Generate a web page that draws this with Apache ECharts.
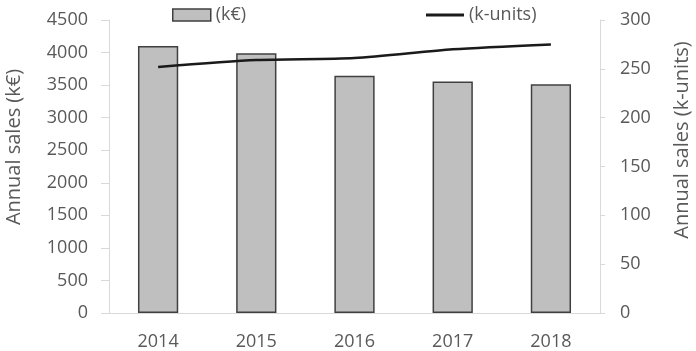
<!DOCTYPE html>
<html><head><meta charset="utf-8">
<script src="https://cdn.jsdelivr.net/npm/echarts@6/dist/echarts.min.js"></script>
<style>html,body{margin:0;padding:0;background:#fff}#c{width:696px;height:351px}</style>
</head><body><div id="c"></div>
<script>
const years = ['2014','2015','2016','2017','2018'];
const salesKEur = [4100, 3990, 3645, 3555, 3512];
const salesKUnits = [252, 259, 261, 270, 275];
const leftTicks = {min: 0, max: 4500, interval: 500};
const rightTicks = {min: 0, max: 300, interval: 50};
const barName = '(k€)';
const lineName = '(k-units)';
const leftTitle = 'Annual sales (k€)';
const rightTitle = 'Annual sales (k-units)';

const FONT = 'Open Sans';
const TXT = '#595959';
const chart = echarts.init(document.getElementById('c'), null, {renderer: 'canvas'});
chart.setOption({
  animation: false,
  backgroundColor: '#fff',
  textStyle: {fontFamily: FONT},
  grid: {left: 109, right: 96, top: 20, bottom: 38, containLabel: false},
  legend: [
    {data: [barName], left: 167, top: 1, itemWidth: 38, itemHeight: 12, icon: 'rect',
     itemStyle: {color: '#bfbfbf', borderColor: '#404040', borderWidth: 1.5},
     textStyle: {color: TXT, fontSize: 18, fontFamily: FONT}},
    {data: [lineName], left: 421, top: 1, itemWidth: 38, itemHeight: 3, icon: 'rect',
     itemStyle: {color: '#1a1a1a', borderWidth: 0},
     textStyle: {color: TXT, fontSize: 18, fontFamily: FONT}}
  ],
  xAxis: {
    type: 'category', data: years,
    axisLine: {show: true, lineStyle: {color: '#d9d9d9', width: 1}},
    axisTick: {show: false},
    axisLabel: {color: TXT, fontSize: 18, margin: 20, fontFamily: FONT},
    splitLine: {show: false}
  },
  yAxis: [
    {type: 'value', min: leftTicks.min, max: leftTicks.max, interval: leftTicks.interval,
     position: 'left',
     axisLine: {show: true, lineStyle: {color: '#d9d9d9', width: 1}},
     axisTick: {show: true, length: 8, lineStyle: {color: '#d9d9d9'}},
     axisLabel: {color: TXT, fontSize: 18, margin: 21, fontFamily: FONT, formatter: v => String(v)},
     splitLine: {show: false}},
    {type: 'value', min: rightTicks.min, max: rightTicks.max, interval: rightTicks.interval,
     position: 'right',
     axisLine: {show: true, lineStyle: {color: '#d9d9d9', width: 1}},
     axisTick: {show: true, length: 5, lineStyle: {color: '#d9d9d9'}},
     axisLabel: {color: TXT, fontSize: 18, margin: 20, fontFamily: FONT, formatter: v => String(v)},
     splitLine: {show: false}}
  ],
  graphic: [
    {type: 'text', x: 14, y: 147, rotation: Math.PI / 2,
     style: {text: leftTitle, fill: TXT, font: '20px "Open Sans"', align: 'center', verticalAlign: 'middle'}},
    {type: 'text', x: 682, y: 140, rotation: Math.PI / 2,
     style: {text: rightTitle, fill: TXT, font: '20px "Open Sans"', align: 'center', verticalAlign: 'middle'}}
  ],
  series: [
    {name: barName, type: 'bar', data: salesKEur, yAxisIndex: 0, barWidth: '41%',
     itemStyle: {color: '#bfbfbf', borderColor: '#404040', borderWidth: 1.5}},
    {name: lineName, type: 'line', data: salesKUnits, yAxisIndex: 1, smooth: 0.25,
     symbol: 'none', lineStyle: {color: '#1a1a1a', width: 2.5}, itemStyle: {color: '#1a1a1a'}}
  ]
});
</script></body></html>
